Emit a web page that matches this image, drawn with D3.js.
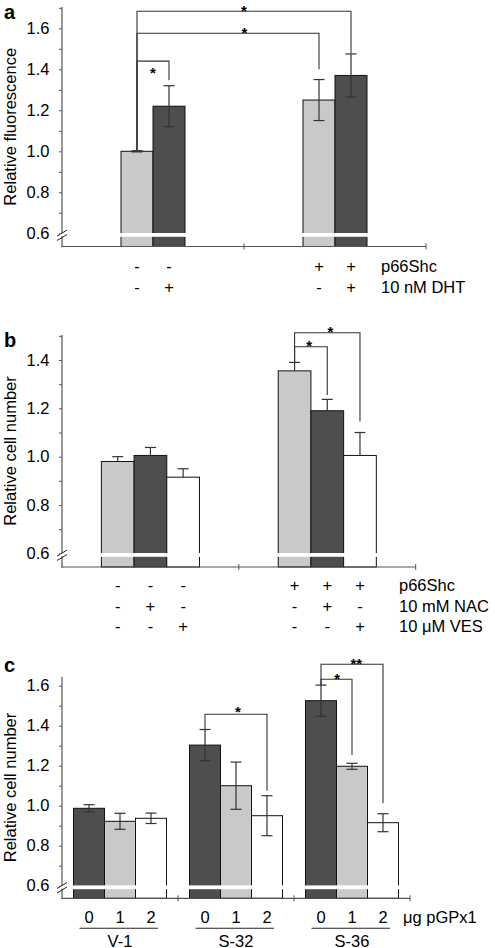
<!DOCTYPE html>
<html><head><meta charset="utf-8">
<script src="https://cdn.jsdelivr.net/npm/d3@7"></script>
<style>
body{margin:0;background:#fff}
svg{display:block}
text{font-family:"Liberation Sans",Arial,Helvetica,sans-serif;fill:#000}
</style>
</head><body>
<svg id="chart" width="495" height="948"></svg>
<script>
// ---------- Panel a data ----------
const aGroups = ["control", "p66Shc"];
const aValues = [[1.00, 1.22], [1.25, 1.37]];
const aErrors = [[0.003, 0.10], [0.10, 0.105]];
const aRowLabels = ["p66Shc", "10 nM DHT"];
const aRowMarks = [[["-", "-"], ["+", "+"]], [["-", "+"], ["-", "+"]]];
const aYTicks = [0.6, 0.8, 1.0, 1.2, 1.4, 1.6];
const aBrackets = [
  {from: [0, 0], to: [0, 1], fromY: 1.0, lineY: 1.44, toY: 1.346, starY: 1.40, sx: 0.5, label: "*"},
  {from: [0, 0], to: [1, 0], fromY: 1.0, lineY: 1.576, toY: 1.40, starY: 1.595, sx: 0.59, label: "*"},
  {from: [0, 0], to: [1, 1], fromY: 1.0, lineY: 1.683, toY: 1.478, starY: 1.702, sx: 0.5, label: "*"}
];

// ---------- Panel b data ----------
const bGroups = ["control", "p66Shc"];
const bValues = [[0.98, 1.005, 0.915], [1.355, 1.19, 1.005]];
const bErrors = [[0.02, 0.033, 0.035], [0.035, 0.047, 0.095]];
const bRowLabels = ["p66Shc", "10 mM NAC", "10 \u03BCM VES"];
const bRowMarks = [
  [["-", "-", "-"], ["+", "+", "+"]],
  [["-", "+", "-"], ["-", "+", "-"]],
  [["-", "-", "+"], ["-", "-", "+"]]
];
const bYTicks = [0.6, 0.8, 1.0, 1.2, 1.4];
const bBrackets = [
  {from: [1, 0], to: [1, 1], fromY: 1.391, lineY: 1.455, toY: 1.255, starY: 1.472, sx: 0.45, label: "*"},
  {from: [1, 0], to: [1, 2], fromY: 1.391, lineY: 1.513, toY: 1.145, starY: 1.533, sx: 0.55, label: "*"}
];

// ---------- Panel c data ----------
const cGroups = ["V-1", "S-32", "S-36"];
const cDoses = ["0", "1", "2"];
const cUnit = "\u03BCg pGPx1";
const cValues = [[0.987, 0.922, 0.937], [1.303, 1.10, 0.95], [1.525, 1.197, 0.915]];
const cErrors = [[0.018, 0.04, 0.026], [0.078, 0.118, 0.10], [0.078, 0.015, 0.045]];
const cYTicks = [0.6, 0.8, 1.0, 1.2, 1.4, 1.6];
const cBrackets = [
  {from: [1, 0], to: [1, 2], fromY: 1.382, lineY: 1.457, toY: 1.075, starY: 1.487, sx: 0.53, label: "*"},
  {from: [2, 0], to: [2, 1], fromY: 1.602, lineY: 1.632, toY: 1.253, starY: 1.653, sx: 0.52, label: "*"},
  {from: [2, 0], to: [2, 2], fromY: 1.602, lineY: 1.707, toY: 1.012, starY: 1.725, sx: 0.57, label: "**"}
];

// ---------- styles ----------
const LIGHT = "#c9c9c9", DARK = "#4e4e4e", WHITE = "#ffffff";
const AXIS = "#555", LINE = "#333";
const FONT = 16.5;

const svg = d3.select("#chart");

function drawPanel(p) {
  const g = svg.append("g");
  const y = d3.scaleLinear().domain([0.6, p.yMax]).range([p.y06, p.yTopTick]);
  const topVal = y.invert(p.axisTop);
  const gx = d3.scaleBand().domain(p.groups).range([p.x0, p.x1]).padding(0);
  const n = p.values[0].length;
  const bx = (gi, i) => gx(p.groups[gi]) + gx.bandwidth() / 2 + (i - (n - 1) / 2) * p.barW;

  // bars
  p.values.forEach((vals, gi) => {
    vals.forEach((v, i) => {
      const cx = bx(gi, i);
      g.append("rect")
        .attr("x", cx - p.barW / 2).attr("width", p.barW)
        .attr("y", y(v)).attr("height", p.baseline - y(v))
        .attr("fill", p.fills[i]).attr("stroke", "#111").attr("stroke-width", 1);
      g.append("rect")
        .attr("x", cx - p.barW / 2 - 1).attr("width", p.barW + 2)
        .attr("y", y(0.6) - 0.3).attr("height", 3.8)
        .attr("fill", "#fff");
      const e = p.errors[gi][i];
      const yTop = y(v + e), yBot = p.errUp ? y(v) : y(v - e);
      g.append("line").attr("x1", cx).attr("x2", cx).attr("y1", yTop).attr("y2", yBot)
        .attr("stroke", LINE).attr("stroke-width", 1.2);
      g.append("line").attr("x1", cx - 5.5).attr("x2", cx + 5.5).attr("y1", yTop).attr("y2", yTop)
        .attr("stroke", LINE).attr("stroke-width", 1.2);
      if (!p.errUp) {
        g.append("line").attr("x1", cx - 5.5).attr("x2", cx + 5.5).attr("y1", yBot).attr("y2", yBot)
          .attr("stroke", LINE).attr("stroke-width", 1.2);
      }
    });
  });

  // y axis
  const yAxis = d3.axisLeft(y).tickValues(p.ticks).tickSize(3).tickPadding(9.5)
    .tickFormat(d3.format(".1f"));
  const ya = g.append("g").attr("transform", `translate(${p.x0},0)`).call(yAxis);
  ya.select(".domain").remove();
  ya.selectAll("line").attr("stroke", AXIS);
  ya.selectAll("text").attr("font-size", FONT).attr("font-family", null).attr("fill", "#000");
  const minor = d3.range(0.7, topVal + 0.001, 0.2);
  const ym = g.append("g").attr("transform", `translate(${p.x0},0)`)
    .call(d3.axisLeft(y).tickValues(minor).tickSize(3).tickFormat(""));
  ym.select(".domain").remove();
  ym.selectAll("line").attr("stroke", AXIS);
  g.append("line").attr("x1", p.x0).attr("x2", p.x0).attr("y1", p.axisTop).attr("y2", p.baseline + 1)
    .attr("stroke", AXIS).attr("stroke-width", 1.2);
  const by = y(0.6) + 2;
  g.append("rect").attr("x", p.x0 - 2).attr("y", by - 2).attr("width", 4).attr("height", 3).attr("fill", "#fff");
  [-2.2, 2.2].forEach(o => {
    g.append("line").attr("x1", p.x0 - 5).attr("y1", by + o + 3).attr("x2", p.x0 + 5).attr("y2", by + o - 3)
      .attr("stroke", "#222").attr("stroke-width", 1);
  });

  // x axis
  g.append("line").attr("x1", p.x0).attr("x2", p.x1).attr("y1", p.baseline).attr("y2", p.baseline)
    .attr("stroke", AXIS).attr("stroke-width", 1.2);
  p.groups.forEach((gr) => {
    const tx = gx(gr) + gx.bandwidth();
    g.append("line").attr("x1", tx).attr("x2", tx).attr("y1", p.baseline - 3).attr("y2", p.baseline + 3)
      .attr("stroke", AXIS).attr("stroke-width", 1);
  });

  g.append("text").attr("transform", `translate(${p.titleX},${(p.axisTop + p.baseline) / 2}) rotate(-90)`)
    .attr("text-anchor", "middle").attr("font-size", FONT).text(p.title);
  g.append("text").attr("x", 4).attr("y", p.letterY).attr("font-size", 20).attr("font-weight", "bold").text(p.letter);

  // brackets
  p.brackets.forEach(b => {
    const xa = bx(b.from[0], b.from[1]), xb = bx(b.to[0], b.to[1]);
    g.append("path")
      .attr("d", `M${xa},${y(b.fromY)}V${y(b.lineY)}H${xb}V${y(b.toY)}`)
      .attr("fill", "none").attr("stroke", LINE).attr("stroke-width", 1.1);
    g.append("text").attr("x", xa + b.sx * (xb - xa)).attr("y", y(b.starY) + 8.7)
      .attr("text-anchor", "middle").attr("font-size", 15).attr("font-weight", "bold").text(b.label);
  });

  if (p.rowMarks) {
    p.rowMarks.forEach((row, r) => {
      row.forEach((marks, gi) => {
        marks.forEach((m, i) => {
          g.append("text").attr("x", bx(gi, i)).attr("y", p.rowY[r])
            .attr("text-anchor", "middle").attr("font-size", FONT).text(m);
        });
      });
      g.append("text").attr("x", p.labelX).attr("y", p.rowY[r]).attr("font-size", FONT).text(p.rowLabels[r]);
    });
  }
  return {g, bx, gx};
}

drawPanel({
  letter: "a", letterY: 18.5, title: "Relative fluorescence", titleX: 16,
  groups: aGroups, values: aValues, errors: aErrors, fills: [LIGHT, DARK], errUp: false,
  ticks: aYTicks, yMax: 1.6, y06: 233.3, yTopTick: 28.3, axisTop: 7, baseline: 246.5,
  x0: 62, x1: 426, barW: 32,
  brackets: aBrackets, rowMarks: aRowMarks, rowLabels: aRowLabels, rowY: [271.5, 292.5], labelX: 381
});

drawPanel({
  letter: "b", letterY: 346.5, title: "Relative cell number", titleX: 16,
  groups: bGroups, values: bValues, errors: bErrors, fills: [LIGHT, DARK, WHITE], errUp: true,
  ticks: bYTicks, yMax: 1.4, y06: 553.3, yTopTick: 360, axisTop: 335, baseline: 567,
  x0: 62, x1: 415.7, barW: 32.7,
  brackets: bBrackets, rowMarks: bRowMarks, rowLabels: bRowLabels, rowY: [591, 611.5, 632], labelX: 399
});

const pc = drawPanel({
  letter: "c", letterY: 671.5, title: "Relative cell number", titleX: 16,
  groups: cGroups, values: cValues, errors: cErrors, fills: [DARK, LIGHT, WHITE], errUp: false,
  ticks: cYTicks, yMax: 1.6, y06: 885.7, yTopTick: 685.7, axisTop: 676.7, baseline: 898.3,
  x0: 62, x1: 410, barW: 31,
  brackets: cBrackets
});
cGroups.forEach((gr, gi) => {
  cDoses.forEach((d, i) => {
    pc.g.append("text").attr("x", pc.bx(gi, i)).attr("y", 922.7)
      .attr("text-anchor", "middle").attr("font-size", FONT).text(d);
  });
  const c = pc.gx(gr) + pc.gx.bandwidth() / 2;
  pc.g.append("line").attr("x1", c - 40.5).attr("x2", c + 38).attr("y1", 928.3).attr("y2", 928.3)
    .attr("stroke", "#222").attr("stroke-width", 1.1);
  pc.g.append("text").attr("x", c).attr("y", 946.5).attr("text-anchor", "middle")
    .attr("font-size", FONT).text(gr);
});
pc.g.append("text").attr("x", 403).attr("y", 922.7).attr("font-size", FONT).text(cUnit);
</script>
</body></html>
